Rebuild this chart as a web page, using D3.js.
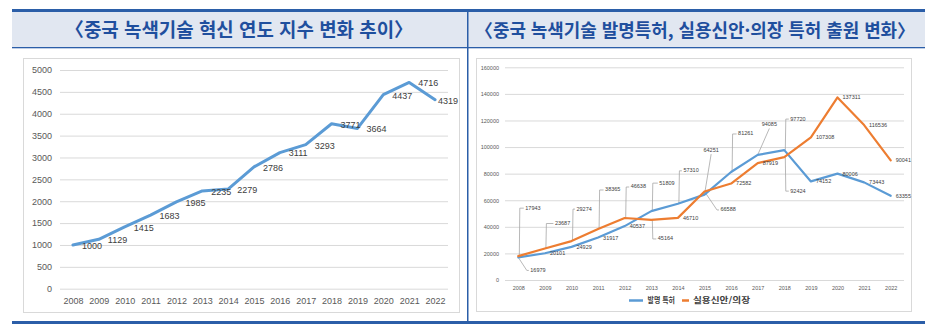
<!DOCTYPE html>
<html lang="ko">
<head>
<meta charset="utf-8">
<script src="https://cdn.jsdelivr.net/npm/d3@7/dist/d3.min.js"></script>
<style>
  html, body { margin: 0; padding: 0; background: #fff; }
  svg { display: block; }
  .tick line { stroke: #d9d9d9; }
  .domain { display: none; }
</style>
</head>
<body>
<svg id="chart" width="938" height="334"></svg>
<script>
// ---- data ----
const years = ['2008','2009','2010','2011','2012','2013','2014','2015','2016','2017','2018','2019','2020','2021','2022'];
const innovationIndex = [1000,1129,1415,1683,1985,2235,2279,2786,3111,3293,3771,3664,4437,4716,4319];
const inventionPatents = [16979,20101,24929,31917,40537,51809,57310,64251,81261,94085,97720,74152,80006,73443,63355];
const utilityDesign = [17943,23687,29274,38365,46638,45164,46710,66588,72582,87919,92424,107308,137311,116536,90041];
const indexTicks = [0,500,1000,1500,2000,2500,3000,3500,4000,4500,5000];
const patentTicks = [0,20000,40000,60000,80000,100000,120000,140000,160000];
const titleLeft = '〈중국 녹색기술 혁신 연도 지수 변화 추이〉';
const titleRight = '〈중국 녹색기술 발명특허, 실용신안·의장 특허 출원 변화〉';
const legendNames = ['발명 특허', '실용신안/의장'];

// ---- label placement (callouts moved off the line, in px from the point) ----
const inventionCallouts = {
  '2008': {dx: 12, dy: 13, leader: 'diag'},
  '2013': {dx: 8, dy: -28, leader: 'elbow'},
  '2014': {dx: 5.5, dy: -33, leader: 'elbow'},
  '2015': {dx: -1, dy: -44, leader: 'under'},
  '2016': {dx: 7, dy: -38, leader: 'elbow'},
  '2017': {dx: 4, dy: -30, leader: 'under'},
  '2018': {dx: 6, dy: -31, leader: 'elbow'}
};
const utilityCallouts = {
  '2008': {dx: 7, dy: -48, leader: 'elbow'},
  '2009': {dx: 10, dy: -25, leader: 'elbow'},
  '2010': {dx: 5, dy: -32, leader: 'elbow'},
  '2011': {dx: 7, dy: -39, leader: 'elbow'},
  '2012': {dx: 6, dy: -31, leader: 'elbow'},
  '2013': {dx: 6.5, dy: 19, leader: 'elbow'},
  '2015': {dx: 16, dy: 18.5, leader: 'diag'},
  '2018': {dx: 6, dy: 34, leader: 'elbow'}
};

const BLUE = '#5b9bd5', ORANGE = '#ed7d31', FRAME = '#2b5ea8';
const svg = d3.select('#chart');
const KR = '"Noto Sans CJK KR", "Noto Sans", sans-serif';
const NUM = '"Liberation Sans", Arial, sans-serif';

// ---- frame: top/bottom rules, title band, divider ----
svg.append('rect').attr('x', 12).attr('y', 12).attr('width', 913).attr('height', 35.5).attr('fill', '#e1e7f1');
svg.append('rect').attr('x', 12).attr('y', 9).attr('width', 913).attr('height', 3).attr('fill', FRAME);
svg.append('rect').attr('x', 12).attr('y', 47).attr('width', 913).attr('height', 1.3).attr('fill', FRAME);
svg.append('rect').attr('x', 12).attr('y', 321).attr('width', 913).attr('height', 3).attr('fill', FRAME);
svg.append('rect').attr('x', 467).attr('y', 9).attr('width', 1.5).attr('height', 315).attr('fill', FRAME);

function title(text, cx, width, size) {
  svg.append('text')
    .attr('x', cx).attr('y', 37)
    .attr('text-anchor', 'middle')
    .attr('font-family', KR).attr('font-weight', 700).attr('font-size', size)
    .attr('fill', '#1f4f9e')
    .attr('textLength', width).attr('lengthAdjust', 'spacingAndGlyphs')
    .text(text);
}
title(titleLeft, 239, 348, 19);
title(titleRight, 695, 440, 18);

// chart boxes
svg.append('rect').attr('x', 23.5).attr('y', 58.5).attr('width', 436).attr('height', 254).attr('fill', '#fff').attr('stroke', '#d9d9d9');
svg.append('rect').attr('x', 476.5).attr('y', 58.5).attr('width', 435).attr('height', 253).attr('fill', '#fff').attr('stroke', '#d9d9d9');

// ---- left chart: innovation index ----
{
  const x = d3.scalePoint().domain(years).range([60, 448]).padding(0.5);
  const y = d3.scaleLinear().domain([0, 5000]).range([288.7, 70]);
  const g = svg.append('g');

  g.append('g').attr('transform', 'translate(60,0)')
    .call(d3.axisLeft(y).tickValues(indexTicks).tickSize(-388).tickPadding(8).tickFormat(d3.format('d')))
    .call(s => s.selectAll('text').attr('font-family', NUM).attr('font-size', 9).attr('fill', '#595959'));

  g.append('g').attr('transform', 'translate(0,288.7)')
    .call(d3.axisBottom(x).tickSize(0).tickPadding(9))
    .call(s => s.selectAll('text').attr('font-family', NUM).attr('font-size', 9).attr('fill', '#595959'));

  const pts = years.map((yr, i) => ({yr, v: innovationIndex[i]}));
  g.append('path').datum(pts)
    .attr('fill', 'none').attr('stroke', BLUE).attr('stroke-width', 3)
    .attr('stroke-linejoin', 'round').attr('stroke-linecap', 'round')
    .attr('d', d3.line().x(d => x(d.yr)).y(d => y(d.v)));

  g.selectAll('text.lbl').data(pts).join('text')
    .attr('class', 'lbl')
    .attr('x', d => Math.min(x(d.yr) + 9, 438))
    .attr('y', d => y(d.v) + 1.5)
    .attr('dominant-baseline', 'middle')
    .attr('font-family', NUM).attr('font-size', 9).attr('fill', '#404040')
    .text(d => d.v);
}

// ---- right chart: patent applications ----
{
  const x = d3.scalePoint().domain(years).range([505, 904]).padding(0.5);
  const y = d3.scaleLinear().domain([0, 160000]).range([280, 67.3]);
  const g = svg.append('g');

  g.append('g').attr('transform', 'translate(505,0)')
    .call(d3.axisLeft(y).tickValues(patentTicks).tickSize(-399).tickPadding(6).tickFormat(d3.format('d')))
    .call(s => s.selectAll('text').attr('font-family', NUM).attr('font-size', 5.5).attr('fill', '#595959'));

  g.append('g').attr('transform', 'translate(0,280)')
    .call(d3.axisBottom(x).tickSize(0).tickPadding(6.4))
    .call(s => s.selectAll('text').attr('font-family', NUM).attr('font-size', 5.5).attr('fill', '#595959'));

  const line = d3.line().x(d => x(d.yr)).y(d => y(d.v));
  const series = [
    {name: legendNames[0], color: BLUE, values: inventionPatents, callouts: inventionCallouts},
    {name: legendNames[1], color: ORANGE, values: utilityDesign, callouts: utilityCallouts}
  ];

  // leaders sit under the lines
  const leaderG = g.append('g');
  const lineG = g.append('g');
  const labelG = g.append('g');

  series.forEach(s => {
    const pts = years.map((yr, i) => ({yr, v: s.values[i]}));
    lineG.append('path').datum(pts)
      .attr('fill', 'none').attr('stroke', s.color).attr('stroke-width', 2.2)
      .attr('stroke-linejoin', 'round').attr('stroke-linecap', 'round')
      .attr('d', line);

    pts.forEach(d => {
      const px = x(d.yr), py = y(d.v);
      const c = s.callouts[d.yr];
      const lx = px + (c ? c.dx : 5);
      const ly = py + (c ? c.dy : 0.5);
      const t = labelG.append('text')
        .attr('x', lx).attr('y', ly)
        .attr('dominant-baseline', 'middle')
        .attr('font-family', NUM).attr('font-size', 5.5).attr('fill', '#404040')
        .text(d.v);
      if (c) {
        const w = t.node().getComputedTextLength();
        let path;
        if (c.leader === 'elbow') path = [[px + 1, py], [px + 1.5, ly], [lx - 1.5, ly]];
        else if (c.leader === 'diag') path = [[px, py], [lx - 3.5, ly], [lx - 1.5, ly]];
        else path = [[px, py], [lx + w / 2, ly + (c.dy < 0 ? 3.5 : -3.5)]];
        leaderG.append('path')
          .attr('d', d3.line()(path))
          .attr('fill', 'none').attr('stroke', '#a6a6a6').attr('stroke-width', 0.8);
      }
    });
  });

  // legend
  const lg = g.append('g').attr('transform', 'translate(0,300.5)');
  lg.append('line').attr('x1', 629).attr('x2', 643).attr('stroke', BLUE).attr('stroke-width', 2.5);
  lg.append('text').attr('x', 647.5).attr('dominant-baseline', 'middle')
    .attr('font-family', KR).attr('font-size', 8).attr('font-weight', 700).attr('fill', '#404040')
    .attr('textLength', 27.5).attr('lengthAdjust', 'spacingAndGlyphs').text(legendNames[0]);
  lg.append('line').attr('x1', 682).attr('x2', 689).attr('stroke', ORANGE).attr('stroke-width', 2.5);
  lg.append('text').attr('x', 693).attr('dominant-baseline', 'middle')
    .attr('font-family', KR).attr('font-size', 8).attr('font-weight', 700).attr('fill', '#404040')
    .attr('textLength', 57).attr('lengthAdjust', 'spacingAndGlyphs').text(legendNames[1]);
}
</script>
</body>
</html>
